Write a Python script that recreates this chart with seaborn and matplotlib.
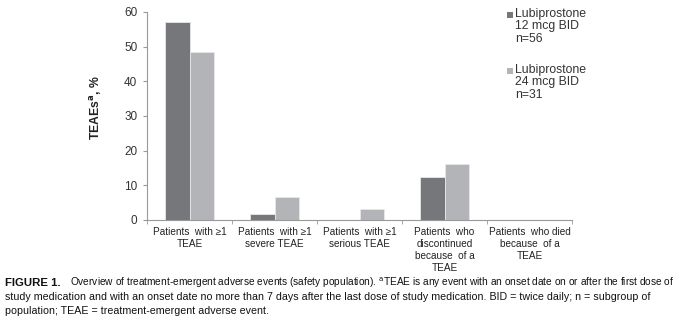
import matplotlib
matplotlib.use("Agg")
import matplotlib.pyplot as plt
import seaborn as sns
import pandas as pd
from matplotlib.patches import Rectangle

categories = ["Patients  with \u22651\nTEAE", "Patients  with \u22651\nsevere TEAE",
              "Patients  with \u22651\nserious TEAE",
              "Patients  who\ndiscontinued\nbecause  of a\nTEAE",
              "Patients  who died\nbecause  of a\nTEAE"]
series = ["Lubiprostone\n12 mcg BID\nn=56", "Lubiprostone\n24 mcg BID\nn=31"]
values_12 = [57.1, 1.8, 0.0, 12.5, 0.0]
values_24 = [48.4, 6.5, 3.2, 16.1, 0.0]
yticks = [0, 10, 20, 30, 40, 50, 60]
colors = ["#76777b", "#b3b4b8"]

sns.set_style("white")
plt.rcParams['font.family'] = ['Liberation Sans', 'DejaVu Sans']

df = pd.DataFrame({
    "cat": categories * 2,
    "grp": [series[0]] * 5 + [series[1]] * 5,
    "val": values_12 + values_24,
})

W, H = 681, 323
fig = plt.figure(figsize=(6.81, 3.23), dpi=100)
ax = fig.add_axes([147/W, 1 - 220/H, 425/W, 208/H])
sns.barplot(data=df, x="cat", y="val", hue="grp", palette=colors, ax=ax,
            width=0.565, edgecolor="#e8e8e8", linewidth=0.6, legend=False,
            saturation=1)
ax.set_ylim(0, 60)
ax.set_xlim(-0.5, 4.5)
ax.set_yticks(yticks)
ax.set_yticklabels([str(t) for t in yticks], fontsize=8.5, color="#333333")
ax.set_xticks(range(5))
ax.set_xticklabels(categories, fontsize=7.2, color="#222222", linespacing=1.25)
ax.set_xlabel("")
ax.set_ylabel("TEAEs$^{\\mathbf{a}}$, %", fontsize=8.8, fontweight="bold", color="#222222", labelpad=8)
ax.yaxis.set_label_coords(-0.1, 0.54)
for s in ["top", "right"]:
    ax.spines[s].set_visible(False)
for s in ["left", "bottom"]:
    ax.spines[s].set_color("#999999")
    ax.spines[s].set_linewidth(0.8)
ax.tick_params(axis="y", length=3, color="#999999", direction="out", left=True, pad=4)
ax.tick_params(axis="x", length=0, pad=5)
ax.set_xticks([-0.5, 0.5, 1.5, 2.5, 3.5, 4.5], minor=True)
ax.tick_params(axis="x", which="minor", length=3, color="#999999", direction="out", bottom=True)

# legend (square aligned with first line of each label)
leg_tops = [8, 64]
for lab, c, top in zip(series, colors, leg_tops):
    fig.patches.append(Rectangle((507/W, 1 - (top + 10)/H), 6/W, 6/H,
                                 transform=fig.transFigure, facecolor=c, edgecolor="none"))
    fig.text(515/W, 1 - top/H, lab, fontsize=8.8, color="#333333", va="top", ha="left",
             linespacing=1.05)

# caption
cap_font = "Liberation Sans"
fig.text(5/W, 1 - 286/H, "FIGURE 1.", fontsize=8.2, fontweight="bold", family=cap_font,
         va="baseline", color="#111111")
fig.text(70/W, 1 - 286/H,
         "Overview of treatment-emergent adverse events (safety population). $^{\\mathrm{a}}$TEAE is any event with an onset date on or after the first dose of",
         fontsize=7.3, family=cap_font, va="baseline", color="#111111")
fig.text(5/W, 1 - 300/H,
         "study medication and with an onset date no more than 7 days after the last dose of study medication. BID = twice daily; n = subgroup of",
         fontsize=7.65, family=cap_font, va="baseline", color="#111111")
fig.text(5/W, 1 - 314/H,
         "population; TEAE = treatment-emergent adverse event.",
         fontsize=7.65, family=cap_font, va="baseline", color="#111111")

fig.savefig("out.png", dpi=100)
